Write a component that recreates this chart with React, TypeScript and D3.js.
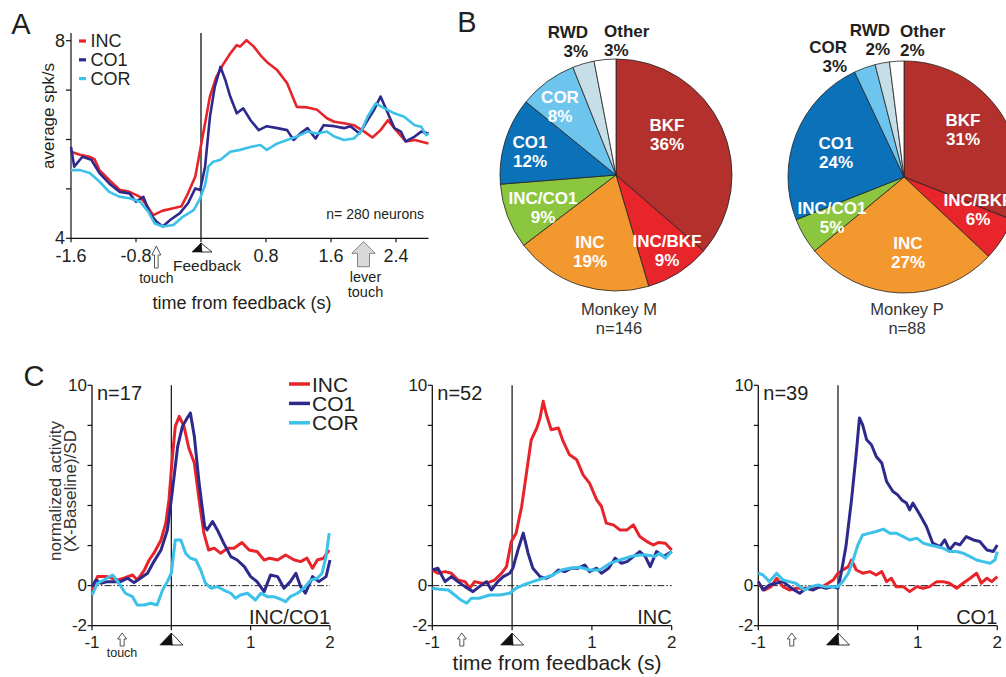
import React from 'react';
import * as d3 from 'd3';

type P = [number, number];

// ---------------- DATA ----------------
const seriesNames = ['INC', 'CO1', 'COR'];
const seriesColors: Record<string, string> = { INC: '#e8242b', CO1: '#2e2a8c', COR: '#3cc1e8' };

// Panel A (average spk/s vs time from feedback)
const aTicksX = [-1.6, -0.8, 0, 0.8, 1.6, 2.4];
const aTickLabelsX = ['-1.6', '-0.8', '', '0.8', '1.6', '2.4'];
const aTicksY = [4, 5, 6, 7, 8];
const aTickLabelsY = ['4', '', '', '', '8'];
const aINC: P[] = [[-1.6,5.75],[-1.49,5.69],[-1.37,5.65],[-1.31,5.6],[-1.25,5.38],[-1.13,5.18],[-1.0,4.98],[-0.88,4.94],[-0.75,4.84],[-0.67,4.67],[-0.59,4.47],[-0.47,4.56],[-0.34,4.61],[-0.24,4.65],[-0.16,4.91],[-0.07,5.25],[-0.01,5.79],[0.05,6.33],[0.11,6.87],[0.19,7.27],[0.28,7.54],[0.36,7.74],[0.44,7.91],[0.48,7.88],[0.56,8.01],[0.65,7.88],[0.73,7.71],[0.81,7.57],[0.94,7.4],[1.06,7.14],[1.18,6.66],[1.31,6.65],[1.43,6.6],[1.55,6.43],[1.64,6.36],[1.76,6.33],[1.88,6.29],[2.01,6.16],[2.11,6.04],[2.21,6.19],[2.3,6.39],[2.4,6.19],[2.52,5.96],[2.63,5.99],[2.8,5.92]];
const aCO1: P[] = [[-1.6,5.85],[-1.56,5.45],[-1.46,5.65],[-1.35,5.59],[-1.25,5.32],[-1.13,5.11],[-1.0,4.94],[-0.88,4.91],[-0.8,4.74],[-0.71,4.84],[-0.63,4.51],[-0.55,4.34],[-0.47,4.24],[-0.38,4.37],[-0.26,4.51],[-0.16,4.71],[-0.07,5.01],[-0.01,4.98],[0.05,5.45],[0.11,6.46],[0.17,7.07],[0.24,7.47],[0.3,7.2],[0.36,6.87],[0.44,6.53],[0.52,6.63],[0.61,6.39],[0.71,6.19],[0.81,6.27],[0.94,6.23],[1.06,6.19],[1.14,5.99],[1.22,6.12],[1.31,6.23],[1.41,6.02],[1.51,6.29],[1.64,6.27],[1.76,6.23],[1.84,6.27],[1.95,6.12],[2.05,6.39],[2.13,6.6],[2.21,6.87],[2.3,6.53],[2.38,6.23],[2.46,6.16],[2.52,5.96],[2.63,6.06],[2.71,6.16],[2.8,6.12]];
const aCOR: P[] = [[-1.6,5.38],[-1.49,5.38],[-1.37,5.32],[-1.25,5.15],[-1.13,4.94],[-1.0,4.84],[-0.88,4.81],[-0.75,4.74],[-0.65,4.54],[-0.57,4.3],[-0.47,4.24],[-0.34,4.27],[-0.22,4.44],[-0.09,4.57],[-0.01,4.81],[0.05,5.08],[0.09,5.45],[0.15,5.55],[0.24,5.59],[0.36,5.75],[0.48,5.79],[0.61,5.85],[0.73,5.89],[0.81,5.79],[0.94,5.92],[1.06,5.99],[1.18,6.06],[1.31,6.16],[1.43,6.12],[1.55,6.16],[1.64,6.06],[1.76,5.99],[1.88,6.02],[1.97,6.16],[2.05,6.46],[2.15,6.73],[2.26,6.63],[2.38,6.53],[2.5,6.46],[2.63,6.29],[2.71,6.26],[2.77,6.09],[2.8,6.12]];

// Panel B (pie charts)
const pieCategories = ['BKF', 'INC/BKF', 'INC', 'INC/CO1', 'CO1', 'COR', 'RWD', 'Other'];
const pieColors = ['#b3302c', '#e8252b', '#f3982f', '#8cc63f', '#0b71b9', '#6dc5ee', '#c6dee8', '#ffffff'];
const pieMonkeyM = [36, 9, 19, 9, 12, 8, 3, 3];
const pieMonkeyP = [31, 6, 27, 5, 24, 3, 2, 2];
const pieTitles = ['Monkey M', 'Monkey P'];
const pieN = [146, 88];

// Panel C (normalized activity)
const cTicksX = [-1, 0, 1, 2];
const cTickLabelsX = ['-1', '', '1', '2'];
const cTicksY = [-2, 0, 2, 4, 6, 8, 10];
const cTickLabelsY = ['-2', '0', '', '', '', '', '10'];
const cGroups = ['INC/CO1', 'INC', 'CO1'];
const cN = [17, 52, 39];
const cTouch = [-0.62, -0.63, -0.58];

const c1INC: P[] = [[-1,-0.22],[-0.93,0.45],[-0.81,0.45],[-0.68,0.28],[-0.6,0.37],[-0.49,0.53],[-0.43,0.28],[-0.34,0.78],[-0.28,1.28],[-0.22,1.62],[-0.13,2.28],[-0.07,3.12],[-0.03,4.28],[0.01,6.28],[0.05,7.95],[0.1,8.45],[0.16,7.95],[0.22,6.87],[0.29,6.12],[0.35,4.28],[0.41,2.62],[0.47,1.78],[0.54,1.87],[0.62,1.62],[0.71,1.87],[0.79,1.87],[0.89,2.15],[0.98,1.78],[1.08,1.7],[1.17,1.28],[1.24,1.37],[1.34,1.28],[1.44,1.53],[1.55,1.28],[1.63,1.2],[1.71,1.37],[1.78,0.87],[1.84,1.28],[1.92,1.37],[1.99,1.78]];
const c1CO1: P[] = [[-1,-0.05],[-0.95,0.28],[-0.89,0.12],[-0.8,0.2],[-0.72,0.2],[-0.64,0.2],[-0.55,0.37],[-0.47,0.15],[-0.39,0.37],[-0.3,0.62],[-0.22,1.2],[-0.13,1.78],[-0.05,2.78],[0.01,4.62],[0.08,6.95],[0.14,7.95],[0.2,8.37],[0.24,8.62],[0.29,7.45],[0.35,5.12],[0.42,2.95],[0.45,2.78],[0.52,3.2],[0.58,2.78],[0.66,2.12],[0.75,1.45],[0.83,1.28],[0.92,0.95],[1.0,0.45],[1.08,0.2],[1.17,-0.3],[1.25,0.53],[1.34,0.45],[1.42,-0.13],[1.5,0.2],[1.57,0.62],[1.63,-0.05],[1.69,-0.38],[1.78,0.45],[1.86,0.2],[1.95,0.45],[2.0,1.28]];
const c1COR: P[] = [[-1,-0.47],[-0.93,0.12],[-0.85,0.28],[-0.74,0.53],[-0.66,0.12],[-0.58,-0.38],[-0.49,-0.55],[-0.43,-0.97],[-0.34,-0.97],[-0.26,-0.88],[-0.18,-0.97],[-0.11,-0.22],[-0.05,0.2],[0,0.62],[0.05,2.28],[0.12,2.28],[0.18,1.62],[0.24,1.37],[0.31,1.28],[0.37,0.78],[0.43,0.12],[0.5,-0.13],[0.58,-0.05],[0.66,-0.22],[0.75,-0.38],[0.81,-0.63],[0.87,-0.47],[0.96,-0.38],[1.06,-0.72],[1.13,-0.38],[1.21,-0.55],[1.29,-0.55],[1.38,-0.68],[1.44,-0.8],[1.5,-0.55],[1.59,-0.38],[1.67,-0.13],[1.76,0.28],[1.84,0.37],[1.9,0.62],[1.95,1.45],[1.99,2.62]];

const c2INC: P[] = [[-1,0.78],[-0.93,0.62],[-0.84,0.7],[-0.76,0.62],[-0.68,0.28],[-0.59,0.2],[-0.53,-0.13],[-0.47,0.2],[-0.38,0.12],[-0.3,0.15],[-0.22,0.28],[-0.13,0.62],[-0.07,0.95],[-0.01,2.2],[0.05,2.62],[0.12,3.95],[0.18,5.62],[0.24,7.28],[0.31,7.87],[0.35,8.37],[0.39,9.2],[0.43,8.53],[0.49,7.78],[0.58,7.87],[0.64,7.2],[0.72,6.53],[0.81,6.28],[0.89,5.53],[0.97,5.12],[1.06,4.28],[1.12,3.95],[1.18,3.12],[1.27,3.03],[1.35,2.78],[1.44,2.78],[1.52,3.03],[1.6,2.45],[1.69,2.2],[1.77,2.03],[1.83,2.15],[1.92,2.12],[2.0,1.78]];
const c2CO1: P[] = [[-1,0.78],[-0.93,0.87],[-0.84,0.2],[-0.76,0.45],[-0.68,0.2],[-0.59,-0.05],[-0.49,-0.3],[-0.41,-0.05],[-0.32,0.2],[-0.26,-0.22],[-0.18,0.2],[-0.11,0.45],[-0.03,0.62],[0.01,0.87],[0.08,1.87],[0.14,2.62],[0.2,1.62],[0.26,0.87],[0.35,0.45],[0.43,0.37],[0.51,0.53],[0.58,0.78],[0.66,0.7],[0.74,0.87],[0.83,0.87],[0.91,1.03],[0.97,0.7],[1.06,0.87],[1.12,0.62],[1.21,0.87],[1.29,1.37],[1.37,1.12],[1.44,1.2],[1.52,1.45],[1.6,1.7],[1.67,1.45],[1.73,0.95],[1.81,1.7],[1.9,1.45],[2.0,1.7]];
const c2COR: P[] = [[-1,-0.13],[-0.91,-0.18],[-0.8,-0.22],[-0.72,-0.47],[-0.64,-0.72],[-0.57,-0.88],[-0.51,-0.63],[-0.41,-0.63],[-0.28,-0.47],[-0.15,-0.47],[-0.03,-0.38],[0.05,-0.13],[0.14,0.03],[0.26,0.2],[0.39,0.37],[0.51,0.53],[0.62,0.78],[0.72,0.87],[0.85,0.92],[0.97,0.78],[1.1,0.78],[1.23,1.12],[1.35,1.28],[1.48,1.45],[1.6,1.53],[1.69,1.53],[1.79,1.45],[1.85,1.62],[1.92,1.37],[2.0,1.7]];

const c3INC: P[] = [[-1,0.12],[-0.92,-0.22],[-0.84,-0.05],[-0.77,0.37],[-0.69,-0.05],[-0.61,-0.22],[-0.52,-0.13],[-0.42,-0.13],[-0.31,-0.13],[-0.19,-0.05],[-0.06,0.28],[0,0.62],[0.06,0.78],[0.13,0.95],[0.17,1.28],[0.23,0.78],[0.31,0.62],[0.4,0.7],[0.48,0.53],[0.55,0.7],[0.61,0.2],[0.67,0.37],[0.73,-0.05],[0.82,-0.05],[0.9,-0.3],[0.99,-0.05],[1.07,-0.13],[1.15,-0.05],[1.24,0.2],[1.32,0.2],[1.4,0.12],[1.49,-0.13],[1.57,0.12],[1.66,0.37],[1.74,0.62],[1.8,0.12],[1.87,0.37],[1.93,0.2],[2.0,0.45]];
const c3CO1: P[] = [[-1,0.2],[-0.94,-0.22],[-0.86,0.03],[-0.78,0.12],[-0.69,0.2],[-0.61,-0.05],[-0.55,-0.22],[-0.48,-0.38],[-0.4,-0.13],[-0.31,-0.22],[-0.23,-0.05],[-0.15,-0.13],[-0.06,-0.05],[0,-0.13],[0.04,0.62],[0.1,1.95],[0.17,4.28],[0.23,6.62],[0.27,8.37],[0.31,8.03],[0.36,7.28],[0.42,7.03],[0.48,6.45],[0.55,6.12],[0.61,5.2],[0.69,4.7],[0.75,4.53],[0.8,4.28],[0.86,4.12],[0.9,3.78],[0.94,4.12],[1.03,3.53],[1.11,2.95],[1.19,2.12],[1.28,1.95],[1.34,2.28],[1.4,1.78],[1.47,2.12],[1.53,2.03],[1.61,2.45],[1.7,2.28],[1.78,2.2],[1.87,1.78],[1.95,1.7],[2.0,2.03]];
const c3COR: P[] = [[-1,0.62],[-0.94,0.53],[-0.86,0.2],[-0.77,0.62],[-0.69,0.28],[-0.61,0.2],[-0.53,0.12],[-0.42,-0.22],[-0.34,-0.05],[-0.25,0.03],[-0.17,-0.05],[-0.08,-0.05],[0,-0.05],[0.06,0.2],[0.13,0.62],[0.19,1.28],[0.25,2.03],[0.31,2.53],[0.4,2.62],[0.48,2.7],[0.57,2.82],[0.65,2.62],[0.73,2.62],[0.82,2.45],[0.9,2.28],[0.99,2.37],[1.07,2.12],[1.15,2.03],[1.24,1.95],[1.32,1.87],[1.4,1.7],[1.49,1.7],[1.57,1.62],[1.66,1.45],[1.74,1.28],[1.82,1.2],[1.91,1.12],[1.97,1.28],[2.0,1.7]];

// ---------------- LAYOUT ----------------
const W = 1006, H = 677;
const FONT = '"Liberation Sans", Arial, Helvetica, sans-serif';
const TXT = '#231f20';

const aLayout = { x0: 71, x1: 428.5, yBottom: 238.3, yTop: 40.7, axisTop: 33 };
const pieLayouts = [
  { cx: 616, cy: 175, r: 116 },
  { cx: 904, cy: 177, r: 116 },
];
// label offsets relative to pie centre: [dx, dy(first line), anchor, colour]
const pieLabelPos: [number, number, string, string][][] = [
  [[51, -50, 'middle', '#fff'], [51, 66, 'middle', '#fff'], [-26, 67, 'middle', '#fff'], [-73, 23, 'middle', '#fff'],
   [-86, -33, 'middle', '#fff'], [-56, -78, 'middle', '#fff'], [-28, -143, 'end', TXT], [-12, -144, 'start', TXT]],
  [[59, -57, 'middle', '#fff'], [74, 23, 'middle', '#fff'], [4, 66, 'middle', '#fff'], [-72, 31, 'middle', '#fff'],
   [-68, -34, 'middle', '#fff'], [-57, -130, 'end', TXT], [-14, -147, 'end', TXT], [-4, -146, 'start', TXT]],
];
const cLayouts = [
  { x0: 92, x1: 330 },
  { x0: 432.3, x1: 671.7 },
  { x0: 758.3, x1: 997.3 },
];
const cY = { bottom: 625.7, top: 385.3 };

const lineGen = (x: d3.ScaleLinear<number, number>, y: d3.ScaleLinear<number, number>) =>
  d3.line<P>().x(d => x(d[0])).y(d => y(d[1])).curve(d3.curveLinear);

function UpArrow({ x, top, bottom, hw, hh, sw, fill, stroke }: any) {
  const d = `M${x},${top} L${x + hw},${top + hh} L${x + sw},${top + hh} L${x + sw},${bottom} L${x - sw},${bottom} L${x - sw},${top + hh} L${x - hw},${top + hh} Z`;
  return <path d={d} fill={fill} stroke={stroke} strokeWidth={0.9} strokeLinejoin="miter" />;
}

function FeedbackMark({ x, top, bottom, hwL, hwR }: any) {
  return (
    <g>
      <path d={`M${x},${top} L${x + hwR},${bottom} L${x},${bottom} Z`} fill="#fff" stroke="#222" strokeWidth={0.9} />
      <path d={`M${x},${top} L${x - hwL},${bottom} L${x + 1},${bottom} Z`} fill="#111" stroke="#111" strokeWidth={0.6} />
    </g>
  );
}

function PanelA() {
  const x = d3.scaleLinear().domain([-1.6, 2.8]).range([aLayout.x0, aLayout.x1]);
  const y = d3.scaleLinear().domain([4, 8]).range([aLayout.yBottom, aLayout.yTop]);
  const lg = lineGen(x, y);
  const data: Record<string, P[]> = { INC: aINC, CO1: aCO1, COR: aCOR };
  return (
    <g fontFamily={FONT}>
      <text x={21} y={24} fontSize={29} fill={TXT} textAnchor="middle" dominantBaseline="central">A</text>
      {/* axes */}
      <line x1={x(-1.6)} x2={x(-1.6)} y1={aLayout.axisTop} y2={y(4)} stroke="#111" strokeWidth={1.2} />
      <line x1={x(-1.6)} x2={x(2.8)} y1={y(4)} y2={y(4)} stroke="#111" strokeWidth={1.2} />
      {aTicksY.map((t, i) => (
        <g key={'ay' + i}>
          <line x1={x(-1.6) - 5} x2={x(-1.6)} y1={y(t)} y2={y(t)} stroke="#111" strokeWidth={1.2} />
          {aTickLabelsY[i] && <text x={x(-1.6) - 6} y={y(t)} fontSize={18} fill={TXT} textAnchor="end" dominantBaseline="central">{aTickLabelsY[i]}</text>}
        </g>
      ))}
      {aTicksX.map((t, i) => (
        <g key={'ax' + i}>
          <line x1={x(t)} x2={x(t)} y1={y(4)} y2={y(4) + 4} stroke="#111" strokeWidth={1.2} />
          {aTickLabelsX[i] && <text x={x(t)} y={256} fontSize={18} fill={TXT} textAnchor="middle" dominantBaseline="central">{aTickLabelsX[i]}</text>}
        </g>
      ))}
      <line x1={x(0)} x2={x(0)} y1={aLayout.axisTop} y2={y(4)} stroke="#111" strokeWidth={1.3} />
      {/* lines */}
      {seriesNames.map(s => (
        <path key={s} d={lg(data[s]) || ''} fill="none" stroke={seriesColors[s]} strokeWidth={2.6} strokeLinejoin="round" />
      ))}
      {/* legend */}
      {seriesNames.map((s, i) => (
        <g key={'lg' + s}>
          <line x1={79} x2={86} y1={41 + i * 18.8} y2={41 + i * 18.8} stroke={seriesColors[s]} strokeWidth={3.2} />
          <text x={90.5} y={41 + i * 18.8} fontSize={18} fill={TXT} dominantBaseline="central">{s}</text>
        </g>
      ))}
      <text x={424} y={213.5} fontSize={14} fill={TXT} textAnchor="end" dominantBaseline="central">n= 280 neurons</text>
      {/* annotations */}
      <FeedbackMark x={x(0)} top={243} bottom={252} hwL={9} hwR={11} />
      <text x={207} y={265} fontSize={15.5} fill={TXT} textAnchor="middle" dominantBaseline="central">Feedback</text>
      <UpArrow x={x(-0.55)} top={246} bottom={268} hw={4.5} hh={9} sw={1.8} fill="#fff" stroke="#444" />
      <text x={x(-0.55)} y={278} fontSize={14} fill={TXT} textAnchor="middle" dominantBaseline="central">touch</text>
      <UpArrow x={x(2.0)} top={241.7} bottom={266.7} hw={11.7} hh={11.6} sw={6} fill="#d9d9d9" stroke="#777" />
      <text x={x(2.0) + 2} y={277} fontSize={14.5} fill={TXT} textAnchor="middle" dominantBaseline="central">lever</text>
      <text x={x(2.0) + 2} y={292} fontSize={14.5} fill={TXT} textAnchor="middle" dominantBaseline="central">touch</text>
      <text x={242} y={303} fontSize={18} fill={TXT} textAnchor="middle" dominantBaseline="central">time from feedback (s)</text>
      <text transform={`translate(48,${116}) rotate(-90)`} fontSize={17} fill={TXT} textAnchor="middle" dominantBaseline="central">average spk/s</text>
    </g>
  );
}

function PieChart({ idx, values }: { idx: number; values: number[] }) {
  const { cx, cy, r } = pieLayouts[idx];
  const arcs = d3.pie<number>().sort(null).value(d => d)(values);
  const arcGen = d3.arc<d3.PieArcDatum<number>>().innerRadius(0).outerRadius(r);
  return (
    <g fontFamily={FONT}>
      <g transform={`translate(${cx},${cy})`}>
        {arcs.map((a, i) => (
          <path key={i} d={arcGen(a) || ''} fill={pieColors[i]} stroke="#222" strokeWidth={0.8} strokeLinejoin="round" />
        ))}
        {arcs.map((a, i) => {
          const [dx, dy, anchor, col] = pieLabelPos[idx][i];
          return (
            <g key={'l' + i} fill={col} fontWeight="bold" fontSize={17} textAnchor={anchor as any}>
              <text x={dx} y={dy} dominantBaseline="central">{pieCategories[i]}</text>
              <text x={dx} y={dy + 19.5} dominantBaseline="central">{values[i] + '%'}</text>
            </g>
          );
        })}
      </g>
      <text x={cx + 3} y={309} fontSize={16.5} fill="#333" textAnchor="middle" dominantBaseline="central">{pieTitles[idx]}</text>
      <text x={cx + 3} y={328} fontSize={16.5} fill="#333" textAnchor="middle" dominantBaseline="central">{'n=' + pieN[idx]}</text>
    </g>
  );
}

function PanelC({ idx, series }: { idx: number; series: Record<string, P[]> }) {
  const L = cLayouts[idx];
  const x = d3.scaleLinear().domain([-1, 2]).range([L.x0, L.x1]);
  const y = d3.scaleLinear().domain([-2, 10]).range([cY.bottom, cY.top]);
  const lg = lineGen(x, y);
  return (
    <g fontFamily={FONT}>
      <line x1={x(-1)} x2={x(-1)} y1={y(10)} y2={y(-2)} stroke="#111" strokeWidth={1.3} />
      <line x1={x(-1)} x2={x(2)} y1={y(-2)} y2={y(-2)} stroke="#111" strokeWidth={1.3} />
      {cTicksY.map((t, i) => (
        <g key={'cy' + i}>
          <line x1={x(-1) - 4.5} x2={x(-1)} y1={y(t)} y2={y(t)} stroke="#111" strokeWidth={1.2} />
          {cTickLabelsY[i] && <text x={x(-1) - 5} y={y(t)} fontSize={17} fill={TXT} textAnchor="end" dominantBaseline="central">{cTickLabelsY[i]}</text>}
        </g>
      ))}
      {cTicksX.map((t, i) => (
        <g key={'cx' + i}>
          <line x1={x(t)} x2={x(t)} y1={y(-2)} y2={y(-2) + 4.5} stroke="#111" strokeWidth={1.2} />
          {cTickLabelsX[i] && <text x={x(t)} y={642} fontSize={17} fill={TXT} textAnchor="middle" dominantBaseline="central">{cTickLabelsX[i]}</text>}
        </g>
      ))}
      <line x1={x(0)} x2={x(0)} y1={y(10)} y2={y(-2)} stroke="#111" strokeWidth={1.2} />
      <line x1={x(-1)} x2={x(2)} y1={y(0)} y2={y(0)} stroke="#222" strokeWidth={1} strokeDasharray="7,2,1.5,2" />
      {seriesNames.map(s => (
        <path key={s} d={lg(series[s]) || ''} fill="none" stroke={seriesColors[s]} strokeWidth={3} strokeLinejoin="round" />
      ))}
      <text x={x(-1) + 5} y={393} fontSize={20} fill={TXT} dominantBaseline="central">{'n=' + cN[idx]}</text>
      <text x={x(2)} y={617} fontSize={20} fill={TXT} textAnchor="end" dominantBaseline="central">{cGroups[idx]}</text>
      <FeedbackMark x={x(0)} top={633} bottom={645} hwL={11.5} hwR={11.5} />
      <UpArrow x={x(cTouch[idx])} top={633} bottom={646} hw={4.5} hh={6} sw={2} fill="#fff" stroke="#444" />
    </g>
  );
}

export default function App() {
  return (
    <svg width={W} height={H} viewBox={`0 0 ${W} ${H}`} style={{ position: 'absolute', left: 0, top: 0, background: '#fff', overflow: 'hidden' }}>
      <rect x={0} y={0} width={W} height={H} fill="#fff" />
      <PanelA />
      <text x={467} y={22} fontSize={29} fill={TXT} fontFamily={FONT} textAnchor="middle" dominantBaseline="central">B</text>
      <PieChart idx={0} values={pieMonkeyM} />
      <PieChart idx={1} values={pieMonkeyP} />
      <text x={34} y={376} fontSize={29} fill={TXT} fontFamily={FONT} textAnchor="middle" dominantBaseline="central">C</text>
      <PanelC idx={0} series={{ INC: c1INC, CO1: c1CO1, COR: c1COR }} />
      <PanelC idx={1} series={{ INC: c2INC, CO1: c2CO1, COR: c2COR }} />
      <PanelC idx={2} series={{ INC: c3INC, CO1: c3CO1, COR: c3COR }} />
      {/* panel C legend */}
      <g fontFamily={FONT}>
        {seriesNames.map((s, i) => (
          <g key={'cl' + s}>
            <line x1={289} x2={310} y1={384 + i * 19.4} y2={384 + i * 19.4} stroke={seriesColors[s]} strokeWidth={3.5} />
            <text x={312} y={384 + i * 19.4} fontSize={21} fill={TXT} dominantBaseline="central">{s}</text>
          </g>
        ))}
        <text transform="translate(55,491) rotate(-90)" fontSize={17} fill="#333" textAnchor="middle" dominantBaseline="central">normalized activity</text>
        <text transform="translate(70,491) rotate(-90)" fontSize={17} fill="#333" textAnchor="middle" dominantBaseline="central">(X-Baseline)/SD</text>
        <text x={84 + 0} y={653} fontSize={12.5} fill={TXT} textAnchor="middle" dominantBaseline="central" transform="translate(38,0)">touch</text>
        <text x={557} y={662} fontSize={21} fill={TXT} textAnchor="middle" dominantBaseline="central">time from feedback (s)</text>
      </g>
    </svg>
  );
}
